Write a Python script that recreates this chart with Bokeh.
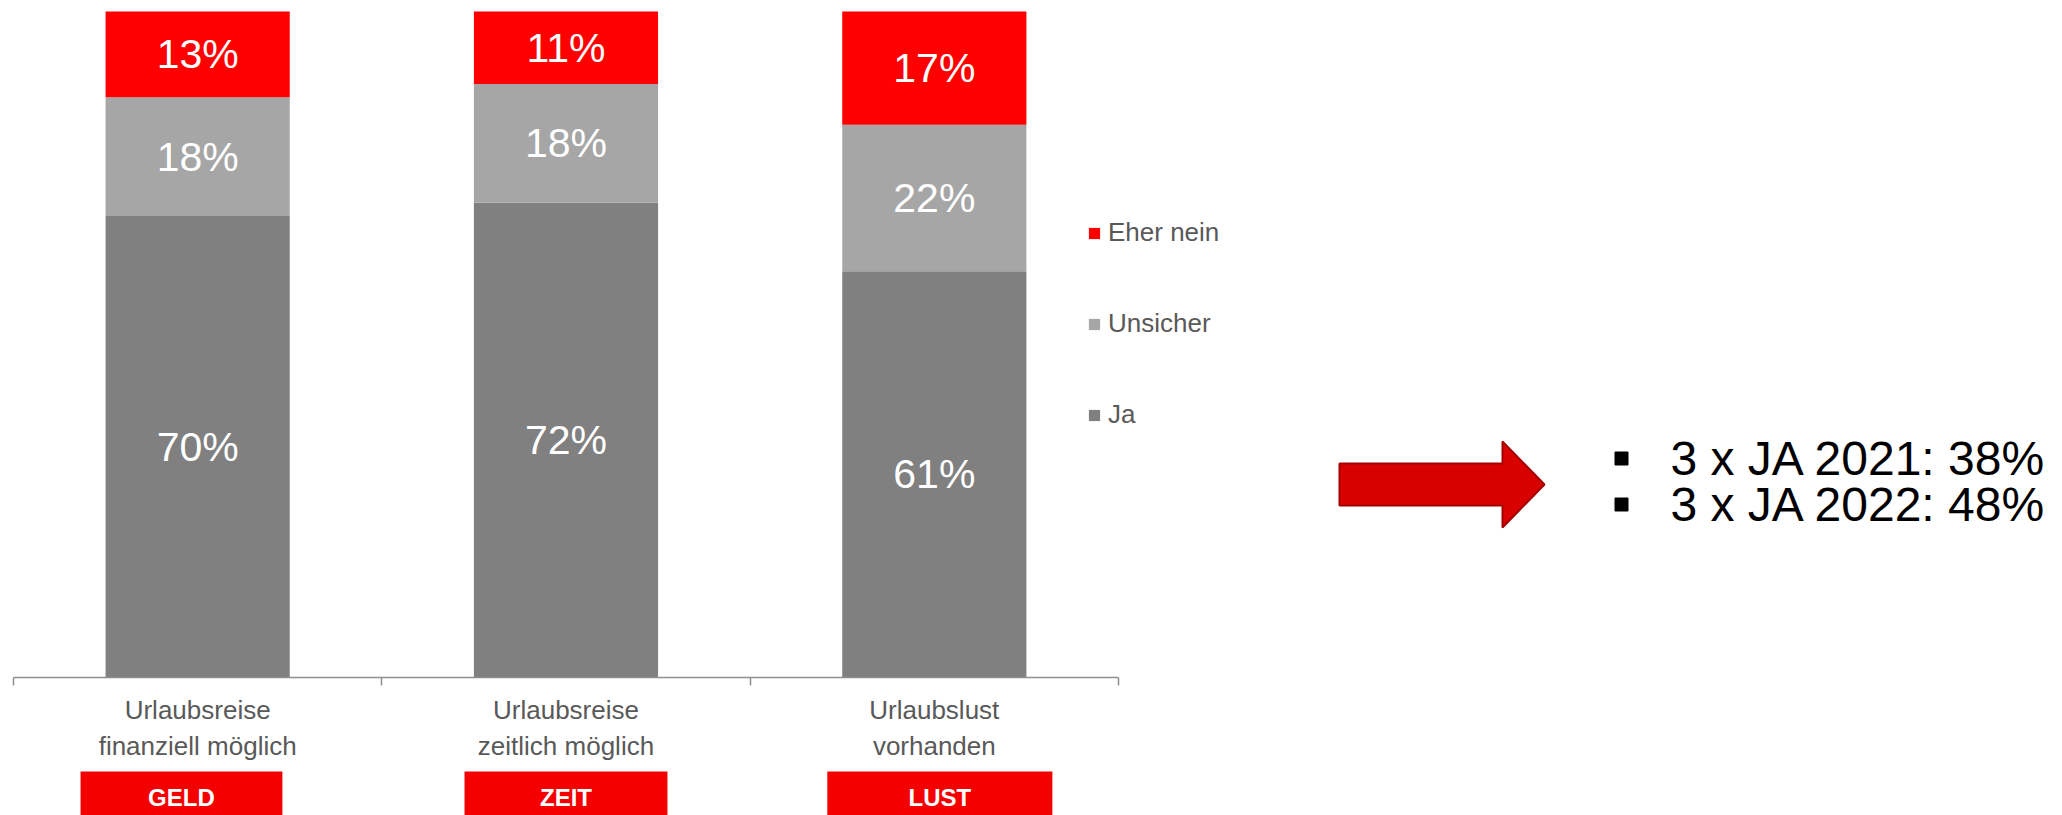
import numpy as np
from bokeh.plotting import figure
from bokeh.models import (ColumnDataSource, Range1d, LinearAxis, FixedTicker,
                          Legend, LegendItem)
from bokeh.layouts import row, column
from bokeh.core.properties import value
from bokeh.embed import file_html
from bokeh.resources import INLINE

# ---------------- data ----------------
categories = ["Urlaubsreise\nfinanziell möglich",
              "Urlaubsreise\nzeitlich möglich",
              "Urlaubslust\nvorhanden"]
keywords = ["GELD", "ZEIT", "LUST"]
series = ["Ja", "Unsicher", "Eher nein"]
ja = [70, 72, 61]
unsicher = [18, 18, 22]
eher_nein = [13, 11, 17]
bullet_years = [2021, 2022]
bullet_values = [38, 48]

# ---------------- style ----------------
FONT = "Liberation Sans"
COLORS = ["#808080", "#a6a6a6", "#ff0000"]
TEXT_GREY = "#595959"
AXIS_GREY = "#8f8f8f"
KEY_RED = "#f50000"
KEY_OFFSETS = [-0.044, 0.0, 0.015]
KEY_WIDTHS = [0.548, 0.551, 0.611]
ARROW_X = [1339, 1502, 1502, 1544, 1502, 1502, 1339]
ARROW_Y = [463, 463, 441, 484, 527, 505, 505]
X_EXTRA = 0.353   # room right of the last category for the legend

# ---------------- bars ----------------
n = len(categories)
vals = np.array([ja, unsicher, eher_nein], dtype=float)
shares = vals / vals.sum(axis=0) * 100.0
xc = np.arange(n) + 0.5
src = ColumnDataSource(dict(x=xc, **{s: shares[i] for i, s in enumerate(series)}))

A = figure(width=1248, height=765, x_range=Range1d(0, n + X_EXTRA),
           y_range=Range1d(0, 100.45), output_backend="svg", toolbar_location=None,
           x_axis_type=None, y_axis_type=None,
           min_border_left=13, min_border_right=0, min_border_top=8, min_border_bottom=88)
A.outline_line_color = None
A.grid.visible = False

rends = A.vbar_stack(series, x="x", width=0.5, color=COLORS, line_color=None, source=src)

lx, ly, lt = [], [], []
cum = np.zeros(n)
for i, s in enumerate(series):
    for j in range(n):
        lx.append(xc[j])
        ly.append(cum[j] + shares[i][j] / 2.0)
        lt.append(f"{int(vals[i][j])}%")
    cum = cum + shares[i]
A.text(x=lx, y=ly, text=lt, text_font=value(FONT), text_font_size="41px",
       text_color="white", text_align="center", text_baseline="middle")

ax = LinearAxis(ticker=FixedTicker(ticks=list(xc), minor_ticks=list(range(n + 1))),
                bounds=(0, n))
ax.major_label_overrides = {float(v): c for v, c in zip(xc, categories)}
ax.major_tick_line_color = None
ax.major_tick_out = 0
ax.major_tick_in = 0
ax.minor_tick_in = 0
ax.minor_tick_out = 8
ax.minor_tick_line_color = AXIS_GREY
ax.minor_tick_line_width = 1.5
ax.axis_line_color = AXIS_GREY
ax.axis_line_width = 1.5
ax.major_label_text_font = FONT
ax.major_label_text_font_size = "26px"
ax.major_label_text_color = TEXT_GREY
ax.major_label_standoff = 9
A.add_layout(ax, "below")

items = [LegendItem(label=series[i], renderers=[rends[i]]) for i in reversed(range(len(series)))]
leg = Legend(items=items, location=(1074, 247), orientation="vertical",
             glyph_width=14, glyph_height=14, label_standoff=7, spacing=60,
             padding=0, margin=0, border_line_color=None, background_fill_alpha=0,
             label_text_font=FONT, label_text_font_size="26px",
             label_text_color=TEXT_GREY, label_height=31)
A.add_layout(leg)

# ---------------- key boxes ----------------
B = figure(width=1248, height=50, x_range=A.x_range, y_range=Range1d(0, 50),
           output_backend="svg", toolbar_location=None, x_axis_type=None, y_axis_type=None,
           min_border_left=13, min_border_right=0, min_border_top=0, min_border_bottom=0)
B.outline_line_color = None
B.grid.visible = False
kx = xc + np.array(KEY_OFFSETS)
kw = np.array(KEY_WIDTHS)
B.quad(left=kx - kw / 2, right=kx + kw / 2, bottom=-10, top=44, fill_color=KEY_RED, line_color=None)
B.text(x=kx, y=[18.3] * len(keywords), text=keywords, text_font=value(FONT),
       text_font_size="24px", text_font_style="bold", text_color="white",
       text_align="center", text_baseline="middle")

# ---------------- right panel ----------------
C = figure(width=814, height=815, x_range=Range1d(1248, 2062), y_range=Range1d(815, 0),
           output_backend="svg", toolbar_location=None, x_axis_type=None, y_axis_type=None,
           min_border=0)
C.outline_line_color = None
C.grid.visible = False
C.patch(ARROW_X, ARROW_Y, fill_color="#d90000", line_color="#a50000", line_width=2)
bullet_text = [f"3 x JA {y}: {v}%" for y, v in zip(bullet_years, bullet_values)]
by = [458 + 46 * i for i in range(len(bullet_text))]
C.scatter(x=[1621] * len(by), y=by, marker="square", size=13, color="black")
C.text(x=[1670] * len(by), y=by, text=bullet_text, text_font=value(FONT),
       text_font_size="48px", text_color="black", text_baseline="middle")

layout = row(column(A, B), C)
open("out.html", "w").write(file_html(layout, INLINE))
